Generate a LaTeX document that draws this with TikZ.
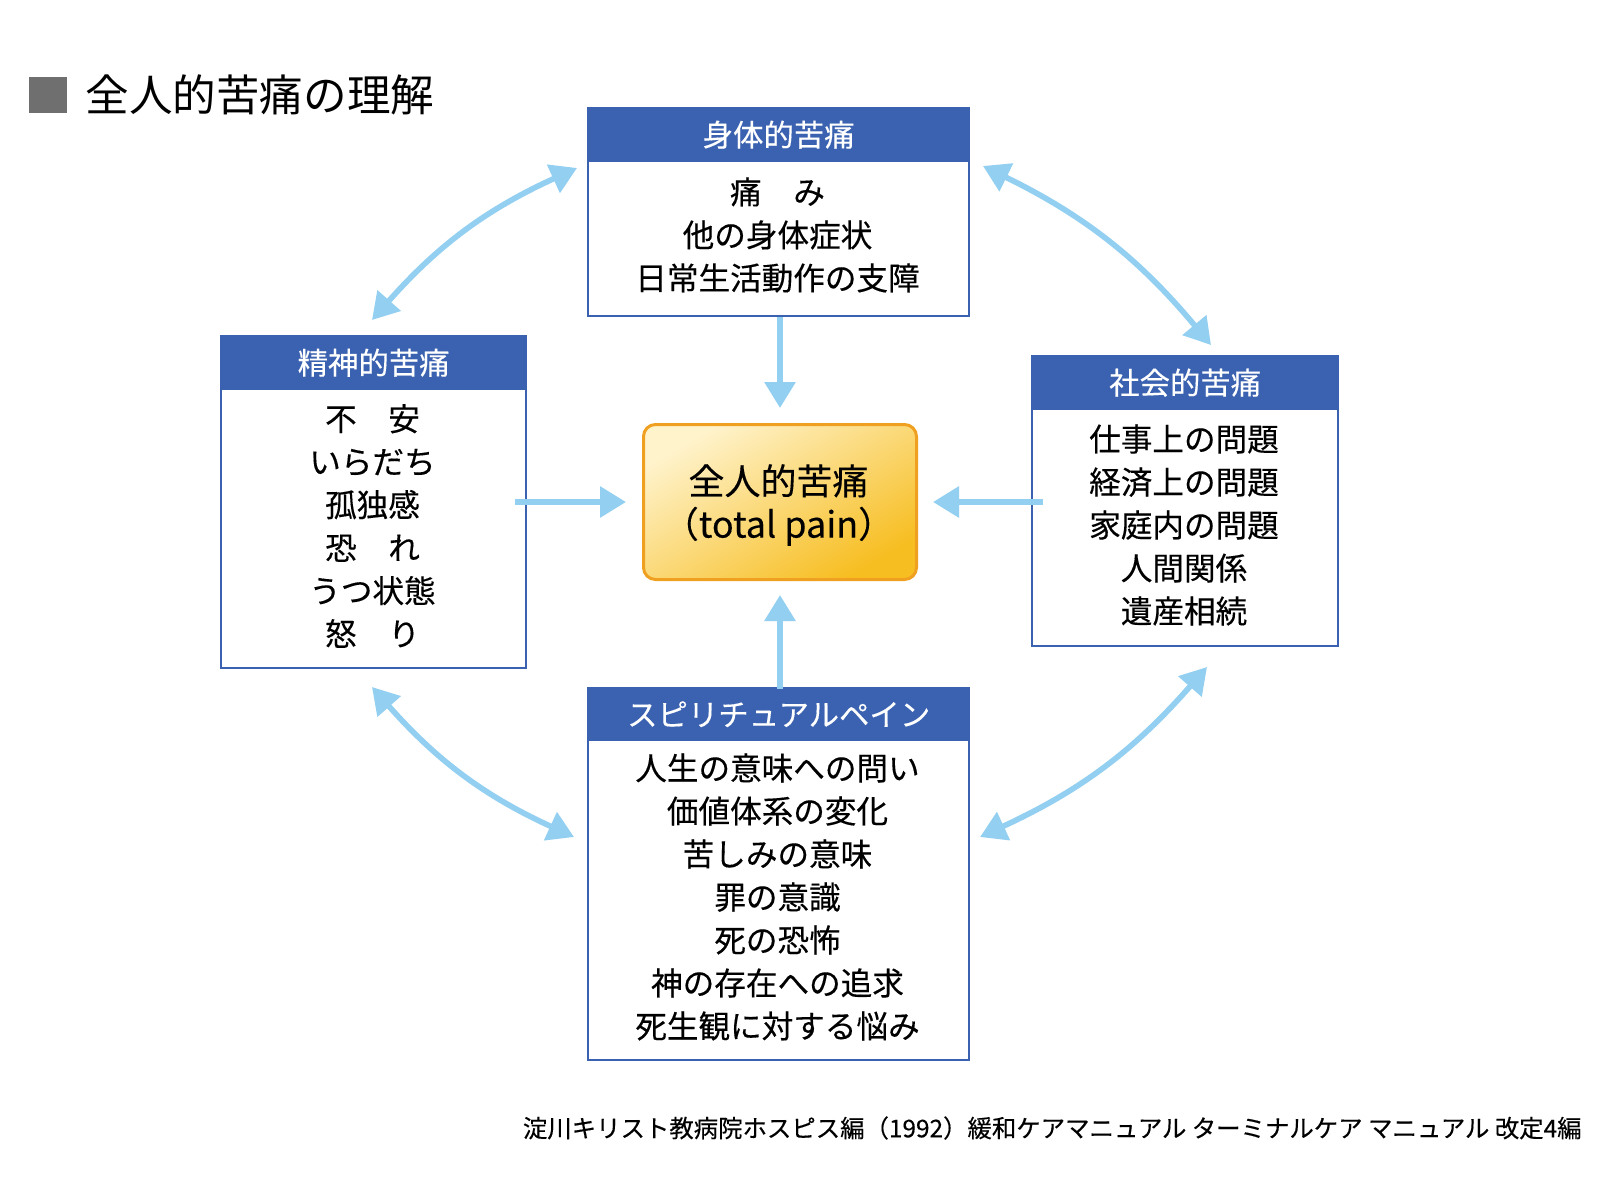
\documentclass[tikz,border=0pt]{standalone}
\usepackage{fontspec}
\setmainfont{Noto Sans CJK JP}
\newfontfamily\bodyfont{Noto Sans CJK JP}[FakeBold=0.3]
\usetikzlibrary{arrows.meta}
\definecolor{hdrblue}{HTML}{3B62B0}
\definecolor{arrblue}{HTML}{92CFF1}
\definecolor{cborder}{HTML}{F0A020}
\definecolor{clight}{HTML}{FFF3CC}
\definecolor{cdark}{HTML}{F7BE22}
\definecolor{sqgray}{HTML}{6F6F6F}
\tikzset{
 boxbody/.style={draw=hdrblue, line width=1.2pt, fill=white, anchor=north west, inner sep=0pt},
 boxhead/.style={fill=hdrblue, draw=hdrblue, line width=1.2pt, anchor=north west, inner sep=0pt, text=white, font=\bodyfont\fontsize{15.2}{18}\selectfont},
 boxtext/.style={align=center, font=\bodyfont\fontsize{15.8}{21.5}\selectfont, inner sep=0pt},
 flow/.style={draw=arrblue, line width=3pt, -{Triangle[length=13pt,width=15pt]}},
 twoway/.style={draw=arrblue, line width=2.8pt, {Triangle[length=13pt,width=15pt]}-{Triangle[length=13pt,width=15pt]}},
}
\begin{document}
\begin{tikzpicture}[x=0.5pt,y=-0.5pt]
\useasboundingbox (0,0) rectangle (1600,1200);
\fill[white] (0,0) rectangle (1600,1200);
% title
\fill[sqgray] (29,77) rectangle (67,113);
\node[anchor=west, inner sep=0pt, font=\fontsize{21.8}{26}\selectfont] (title) at (85,95) {全人的苦痛の理解};
% top box
\node[boxbody, minimum width=190.5pt, minimum height=104pt] (top) at (587,107) {};
\node[boxhead, minimum width=190.5pt, minimum height=26.5pt] (tophead) at (587,107) {身体的苦痛};
\node[boxtext] (toptext) at (777.5,235) {痛　み\\他の身体症状\\日常生活動作の支障};
% left box
\node[boxbody, minimum width=152.5pt, minimum height=166pt] (left) at (220,335) {};
\node[boxhead, minimum width=152.5pt, minimum height=26.5pt] (lefthead) at (220,335) {精神的苦痛};
\node[boxtext] (lefttext) at (372.5,526) {不　安\\いらだち\\孤独感\\恐　れ\\うつ状態\\怒　り};
% right box
\node[boxbody, minimum width=153pt, minimum height=145pt] (right) at (1031,355) {};
\node[boxhead, minimum width=153pt, minimum height=26.5pt] (righthead) at (1031,355) {社会的苦痛};
\node[boxtext] (righttext) at (1184,525) {仕事上の問題\\経済上の問題\\家庭内の問題\\人間関係\\遺産相続};
% bottom box
\node[boxbody, minimum width=190.5pt, minimum height=186pt] (bottom) at (587,687) {};
\node[boxhead, minimum width=190.5pt, minimum height=26pt] (bottomhead) at (587,687) {スピリチュアルペイン};
\node[boxtext] (bottomtext) at (777.5,897) {人生の意味への問い\\価値体系の変化\\苦しみの意味\\罪の意識\\死の恐怖\\神の存在への追求\\死生観に対する悩み};
% center
\node[draw=cborder, line width=1.5pt, rounded corners=6pt, minimum width=136.5pt, minimum height=77.5pt,
      top color=clight, bottom color=cdark, shading angle=30, anchor=north west, inner sep=0pt] (center) at (642,423) {};
\node[align=center, inner sep=0pt, font=\bodyfont\fontsize{18}{21.5}\selectfont] (centertext) at (778.5,505) {全人的苦痛\\（total pain）};
% straight arrows
\draw[flow, shorten >=7.5pt] (top.south -| center.north) -- (center.north);
\draw[flow, shorten <=-1pt, shorten >=7pt] (bottom.north -| center.south) -- (center.south);
\draw[flow, shorten <=-6pt, shorten >=8pt] (left.east |- center.west) -- (center.west);
\draw[flow, shorten <=-6pt, shorten >=7.5pt] (right.west |- center.east) -- (center.east);
% curved arrows
\coordinate (tla) at (372,320); \coordinate (tlb) at (577,168);
\coordinate (tra) at (983,166); \coordinate (trb) at (1211,345);
\coordinate (bra) at (1207,667); \coordinate (brb) at (980,837);
\coordinate (bla) at (574,837); \coordinate (blb) at (372,687);
\draw[twoway] (tla) to[bend left=12] (tlb);
\draw[twoway] (tra) to[bend left=12] (trb);
\draw[twoway] (bra) to[bend left=12] (brb);
\draw[twoway] (bla) to[bend left=12] (blb);
% footer
\node[anchor=east, inner sep=0pt, font=\bodyfont\fontsize{12.2}{14}\selectfont] (footer) at (1582,1128) {淀川キリスト教病院ホスピス編（1992）緩和ケアマニュアル ターミナルケア マニュアル 改定4編};
\end{tikzpicture}
\end{document}
